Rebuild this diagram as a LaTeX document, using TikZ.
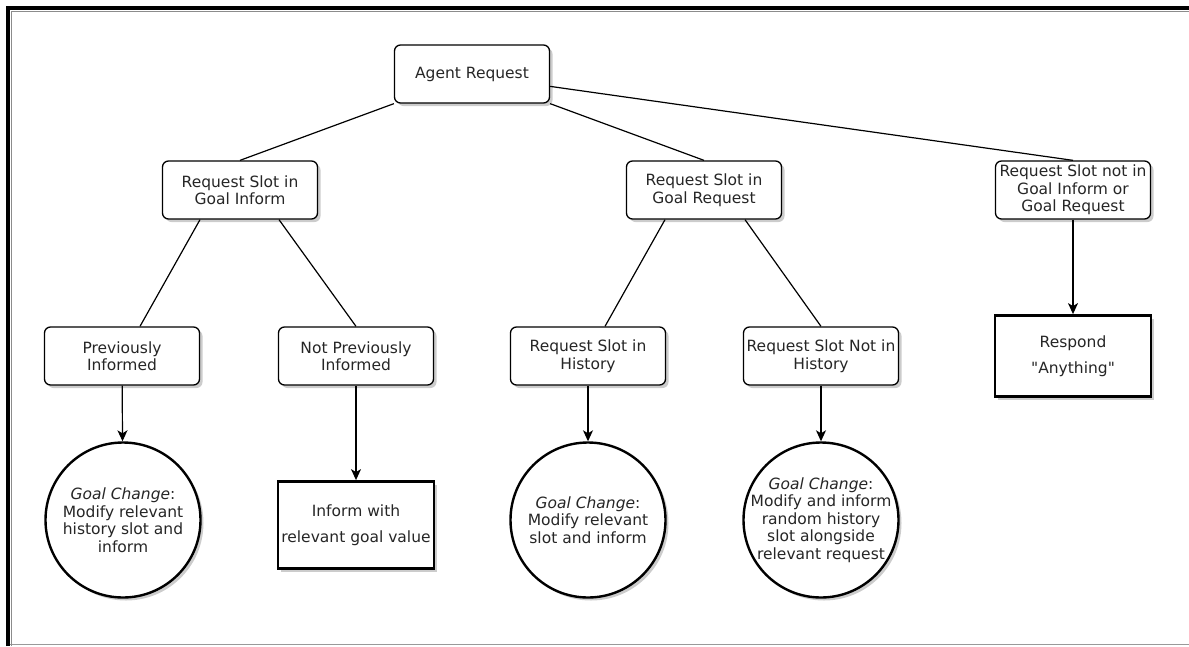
\documentclass[tikz,border=0pt]{standalone}
\usepackage{fontspec}
\setmainfont{DejaVu Sans}
\usetikzlibrary{arrows.meta,shadows,calc}

\begin{document}
\begin{tikzpicture}[x=1pt,y=-1pt,>={Stealth[length=11pt,width=10pt,inset=3pt]},line width=1.2pt,font=\fontsize{15.5}{17.5}\selectfont]
		\tikzstyle{every node}=[text=black!85,align=center]
		\tikzstyle{dropped}=[drop shadow={shadow xshift=3pt,shadow yshift=-3pt,opacity=0.2,fill=black}]
		\tikzstyle{choice}=[draw,fill=white,rounded corners=6pt,line width=1.3pt,minimum width=155pt,minimum height=58pt,inner sep=0pt,dropped]
		\tikzstyle{change}=[draw,fill=white,circle,line width=2.4pt,minimum size=155pt,inner sep=0pt,dropped]
		\tikzstyle{reply}=[draw,fill=white,rectangle,line width=2.8pt,minimum width=156pt,inner sep=0pt,dropped]
		% frame
		\useasboundingbox (0,0) rectangle (1189,646);
		\draw[black!40,line width=1.5pt] (10,644.5) -- (1189,644.5);
		\draw[black!45,line width=1pt] (11,646) -- (11,11) -- (1189,11);
		\draw[line width=4pt] (8,646) -- (8,8) -- (1189,8);
		% tree
		\node[choice] (ar) at (472,74) {Agent Request};
		\node[choice] (gi) at (240,190) {Request Slot in\\Goal Inform};
		\node[choice] (gr) at (704,190) {Request Slot in\\Goal Request};
		\node[choice] (gn) at (1073,190) {Request Slot not in\\Goal Inform or\\Goal Request};
		\node[choice] (pi) at (122,356) {Previously\\Informed};
		\node[choice] (np) at (356,356) {Not Previously\\Informed};
		\node[choice] (hi) at (588,356) {Request Slot in\\History};
		\node[choice] (nh) at (821,356) {Request Slot Not in\\History};
		\node[change] (c1) at (123,520) {\textit{Goal Change}:\\Modify relevant\\history slot and\\inform};
		\node[reply,minimum height=87pt] (ib) at (356,525) {Inform with\\[9pt]relevant goal value};
		\node[change] (c3) at (588,520) {\textit{Goal Change}:\\Modify relevant\\slot and inform};
		\node[change,inner sep=-8pt] (c4) at (821,520) {\textit{Goal Change}:\\Modify and inform\\random history\\slot alongside\\relevant request};
		\node[reply,minimum height=81pt] (rs) at (1073,356) {Respond\\[9pt]\textquotedbl Anything\textquotedbl};
		\path
		(ar.south west) edge (gi.north)
		(ar.south east) edge (gr.north)
		(ar.-9.5) edge (gn.north)
		($(gi.south)+(-40,0)$) edge ($(pi.north)+(18,0)$)
		($(gi.south)+(39,0)$) edge (np.north)
		($(gr.south)+(-39,0)$) edge ($(hi.north)+(17,0)$)
		($(gr.south)+(41,0)$) edge (nh.north);
		\path[->]
		(pi) edge (c1)
		(np) edge (ib)
		(hi) edge (c3)
		(nh) edge (c4)
		(gn) edge (rs);
\end{tikzpicture}
\end{document}
